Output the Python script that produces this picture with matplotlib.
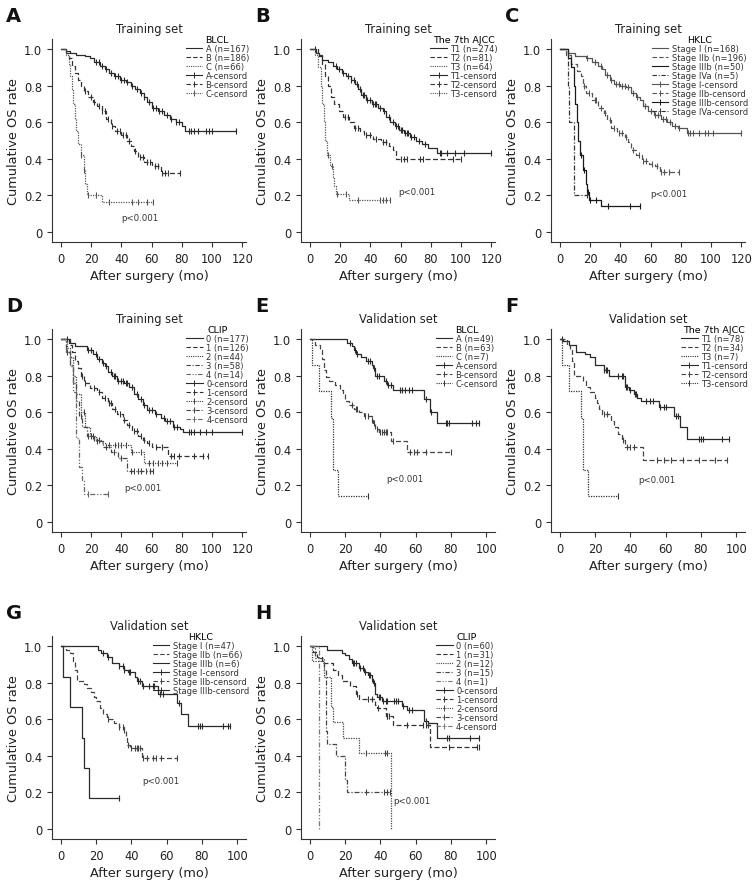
import numpy as np
import matplotlib.pyplot as plt
from matplotlib.lines import Line2D

plt.rcParams['font.family'] = ['DejaVu Sans']

# ---- A: training set, BLCL ----
pA_A_t = [0, 3, 6, 10, 16, 19, 22, 26, 29, 32, 35, 39, 43, 46, 49, 52, 55, 57, 60, 64, 68, 72, 76, 80, 82]
pA_A_s = [1.0, 0.99, 0.98, 0.97, 0.96, 0.95, 0.93, 0.91, 0.89, 0.87, 0.85, 0.83, 0.82, 0.80, 0.78, 0.76, 0.74, 0.71, 0.68, 0.66, 0.64, 0.62, 0.60, 0.58, 0.55]
pA_A_c = [23, 25, 27, 30, 33, 36, 38, 40, 42, 44, 47, 50, 53, 55, 58, 61, 63, 65, 67, 70, 73, 76, 78, 85, 86, 88, 91, 96, 98, 100, 116]
pA_B_t = [0, 3, 5, 7, 9, 11, 13, 15, 18, 21, 24, 27, 30, 33, 36, 40, 44, 46, 48, 51, 55, 60, 66]
pA_B_s = [1.0, 0.98, 0.95, 0.91, 0.87, 0.83, 0.80, 0.77, 0.74, 0.71, 0.69, 0.66, 0.62, 0.58, 0.55, 0.53, 0.50, 0.47, 0.44, 0.41, 0.38, 0.36, 0.32]
pA_B_c = [16, 20, 22, 25, 27, 29, 31, 34, 37, 39, 41, 43, 45, 49, 52, 54, 57, 59, 62, 64, 67, 69, 71, 79]
pA_C_t = [0, 3, 5, 6, 7, 8, 9, 10, 11, 13, 15, 16, 17, 27]
pA_C_s = [1.0, 0.97, 0.92, 0.85, 0.78, 0.70, 0.62, 0.55, 0.48, 0.42, 0.34, 0.26, 0.20, 0.165]
pA_C_c = [13.5, 15.5, 18, 23, 32, 47, 51, 57, 61]

# ---- B: training set, 7th AJCC ----
pB_T1_t = [0, 4, 6, 8, 12, 15, 18, 21, 24, 27, 30, 32, 34, 37, 41, 45, 48, 50, 53, 56, 59, 62, 66, 70, 74, 78, 84]
pB_T1_s = [1.0, 0.98, 0.96, 0.94, 0.93, 0.91, 0.89, 0.87, 0.85, 0.83, 0.81, 0.78, 0.75, 0.72, 0.70, 0.68, 0.66, 0.63, 0.60, 0.58, 0.56, 0.54, 0.52, 0.50, 0.48, 0.46, 0.43]
pB_T1_c = [3, 17, 19, 22, 25, 27, 29, 31, 33, 35, 36, 38, 40, 42, 43, 44, 46, 49, 52, 55, 57, 58, 60, 61, 63, 64, 65, 67, 69, 72, 76, 86, 87, 91, 96, 102, 120]
pB_T2_t = [0, 5, 8, 10, 12, 14, 16, 19, 22, 26, 29, 33, 36, 42, 47, 52, 55, 57]
pB_T2_s = [1.0, 0.97, 0.92, 0.85, 0.80, 0.74, 0.70, 0.66, 0.63, 0.60, 0.57, 0.55, 0.53, 0.51, 0.49, 0.47, 0.45, 0.40]
pB_T2_c = [23, 25, 30, 32, 37, 40, 44, 48, 50, 60, 62, 64, 73, 75, 95, 100]
pB_T3_t = [0, 3, 5, 7, 8, 9, 10, 11, 13, 15, 16, 17, 26]
pB_T3_s = [1.0, 0.97, 0.90, 0.80, 0.70, 0.60, 0.50, 0.42, 0.36, 0.30, 0.25, 0.205, 0.175]
pB_T3_c = [12, 14.5, 18, 24, 32, 46, 48, 50, 53]

# ---- C: training set, HKLC ----
pC_I_t = [0, 5, 10, 17, 21, 25, 28, 30, 33, 36, 40, 44, 47, 50, 53, 55, 58, 62, 67, 71, 74, 78, 84]
pC_I_s = [1.0, 0.98, 0.96, 0.95, 0.93, 0.91, 0.89, 0.86, 0.83, 0.81, 0.80, 0.79, 0.76, 0.74, 0.72, 0.69, 0.66, 0.64, 0.62, 0.60, 0.58, 0.57, 0.54]
pC_I_c = [18, 23, 27, 31, 34, 37, 39, 41, 43, 45, 48, 51, 56, 60, 63, 65, 68, 70, 73, 76, 79, 85, 86, 88, 92, 96, 98, 101, 120]
pC_IIb_t = [0, 4, 7, 11, 14, 15, 17, 21, 25, 29, 31, 34, 38, 43, 45, 47, 50, 54, 59, 63, 66]
pC_IIb_s = [1.0, 0.97, 0.92, 0.88, 0.85, 0.80, 0.76, 0.72, 0.68, 0.65, 0.61, 0.57, 0.54, 0.52, 0.49, 0.45, 0.42, 0.39, 0.37, 0.36, 0.33]
pC_IIb_c = [16, 19, 23, 24, 27, 30, 33, 36, 39, 41, 44, 48, 52, 55, 57, 61, 64, 67, 69, 72, 79]
pC_IIIb_t = [0, 5, 7, 9, 10, 11, 12, 13, 15, 17, 18, 19, 27]
pC_IIIb_s = [1.0, 0.95, 0.90, 0.80, 0.70, 0.60, 0.50, 0.42, 0.34, 0.26, 0.22, 0.175, 0.14]
pC_IIIb_c = [14, 16, 18.5, 20, 24, 32, 46, 53]
pC_IVa_t = [0, 5, 6, 9]
pC_IVa_s = [1.0, 0.8, 0.6, 0.2]
pC_IVa_c = [18]

# ---- D: training set, CLIP ----
pD_0_t = [0, 6, 9, 17, 21, 24, 27, 29, 31, 34, 37, 42, 45, 48, 51, 54, 57, 62, 66, 69, 74, 79, 81]
pD_0_s = [1.0, 0.98, 0.96, 0.94, 0.92, 0.89, 0.87, 0.85, 0.82, 0.80, 0.77, 0.76, 0.74, 0.70, 0.67, 0.64, 0.61, 0.59, 0.57, 0.55, 0.52, 0.51, 0.49]
pD_0_c = [4, 18, 20, 23, 25, 28, 30, 33, 35, 36, 38, 40, 41, 43, 44, 47, 50, 53, 55, 58, 60, 63, 68, 70, 72, 75, 77, 85, 86, 88, 92, 96, 100, 120]
pD_1_t = [0, 5, 7, 9, 11, 13, 15, 19, 24, 27, 31, 34, 37, 41, 44, 47, 51, 54, 57, 60, 71]
pD_1_s = [1.0, 0.97, 0.93, 0.88, 0.84, 0.80, 0.76, 0.73, 0.71, 0.68, 0.65, 0.62, 0.59, 0.56, 0.53, 0.50, 0.47, 0.45, 0.43, 0.41, 0.36]
pD_1_c = [14, 16, 22, 25, 29, 32, 33, 36, 39, 42, 45, 48, 50, 53, 55, 58, 63, 67, 73, 75, 78, 88, 94, 97]
pD_2_t = [0, 4, 6, 8, 10, 13, 16, 19, 23, 27, 30, 46, 55]
pD_2_s = [1.0, 0.95, 0.90, 0.80, 0.70, 0.60, 0.52, 0.47, 0.45, 0.43, 0.42, 0.38, 0.32]
pD_2_c = [15, 21, 25, 32, 36, 38, 40, 43, 47, 53, 58, 61, 64, 67, 70, 77]
pD_3_t = [0, 3, 6, 8, 10, 12, 14, 17, 22, 28, 33, 38, 44]
pD_3_s = [1.0, 0.93, 0.85, 0.76, 0.66, 0.58, 0.52, 0.47, 0.44, 0.41, 0.38, 0.35, 0.28]
pD_3_c = [4, 13, 18, 20, 24, 30, 35, 40, 46, 48, 51, 53, 56, 59, 61]
pD_4_t = [0, 3, 6, 8, 10, 12, 14, 15]
pD_4_s = [1.0, 0.93, 0.86, 0.71, 0.46, 0.30, 0.23, 0.155]
pD_4_c = [18, 31]

# ---- E: validation set, BLCL ----
pE_A_t = [0, 21, 24, 25, 26, 29, 32, 35, 36, 37, 42, 44, 47, 65, 68, 72]
pE_A_s = [1.0, 0.98, 0.96, 0.94, 0.92, 0.90, 0.88, 0.86, 0.84, 0.80, 0.77, 0.75, 0.72, 0.67, 0.60, 0.54]
pE_A_c = [23, 25.5, 27, 33, 34, 36.5, 38, 39, 43, 44.5, 46, 51, 52, 54, 56, 58, 66, 68.5, 77, 78, 79, 92, 94, 96]
pE_B_t = [0, 3, 6, 7, 8, 9, 11, 14, 17, 19, 20, 22, 25, 28, 31, 35, 36, 37, 39, 46, 55]
pE_B_s = [1.0, 0.97, 0.94, 0.89, 0.83, 0.79, 0.77, 0.75, 0.72, 0.70, 0.66, 0.64, 0.62, 0.60, 0.58, 0.56, 0.54, 0.51, 0.49, 0.44, 0.385]
pE_B_c = [24, 26, 27, 31.5, 33, 35.5, 36.5, 38, 40, 41, 42, 43, 44, 47, 57, 59, 61, 66, 80]
pE_C_t = [0, 1, 5, 12, 13, 16]
pE_C_s = [1.0, 0.857, 0.714, 0.571, 0.286, 0.143]
pE_C_c = [33]

# ---- F: validation set, 7th AJCC ----
pF_T1_t = [0, 2, 5, 9, 14, 17, 20, 25, 28, 37, 39, 42, 44, 46, 56, 65, 68, 72]
pF_T1_s = [1.0, 0.99, 0.97, 0.93, 0.92, 0.90, 0.86, 0.83, 0.80, 0.74, 0.72, 0.70, 0.68, 0.66, 0.63, 0.58, 0.52, 0.455]
pF_T1_c = [1, 25, 26, 27, 33, 35, 36, 37.5, 38, 40, 42.5, 43, 49, 51, 53, 57, 59, 60, 66, 67, 79, 80, 81, 92, 96]
pF_T2_t = [0, 4, 6, 7, 8, 13, 15, 17, 20, 21, 22, 24, 29, 31, 33, 35, 37, 47]
pF_T2_s = [1.0, 0.97, 0.94, 0.88, 0.80, 0.77, 0.74, 0.71, 0.68, 0.65, 0.62, 0.59, 0.55, 0.52, 0.48, 0.45, 0.41, 0.34]
pF_T2_c = [25, 27, 36, 38, 40, 42, 55, 59, 63, 70, 79, 88, 95]
pF_T3_t = [0, 1, 5, 12, 13, 16]
pF_T3_s = [1.0, 0.857, 0.714, 0.571, 0.286, 0.143]
pF_T3_c = [33]

# ---- G: validation set, HKLC ----
pG_I_t = [0, 21, 23, 26, 29, 33, 36, 38, 42, 43, 46, 55, 66, 68, 72]
pG_I_s = [1.0, 0.98, 0.96, 0.94, 0.91, 0.89, 0.87, 0.86, 0.83, 0.81, 0.78, 0.74, 0.69, 0.63, 0.565]
pG_I_c = [24, 27, 33, 35, 36, 38.5, 39, 43.5, 44, 45, 46.5, 50, 52, 53, 56, 58, 67, 78, 79, 80, 92, 95, 96]
pG_IIb_t = [0, 3, 5, 7, 8, 9, 13, 15, 17, 19, 20, 22, 24, 26, 30, 33, 36, 37, 37.5, 39, 46]
pG_IIb_s = [1.0, 0.98, 0.96, 0.92, 0.87, 0.81, 0.79, 0.77, 0.75, 0.72, 0.70, 0.66, 0.63, 0.60, 0.58, 0.56, 0.54, 0.50, 0.46, 0.44, 0.39]
pG_IIb_c = [26.5, 33, 35, 36, 38, 40, 42, 43, 44, 45, 46.5, 49, 52, 54, 57, 66]
pG_IIIb_t = [0, 1, 5, 12, 13, 16]
pG_IIIb_s = [1.0, 0.833, 0.667, 0.5, 0.333, 0.167]
pG_IIIb_c = [33]

# ---- H: validation set, CLIP ----
pH_0_t = [0, 10, 18, 20, 22, 24, 28, 31, 33, 35, 36, 37, 38, 41, 52, 55, 65, 67, 72]
pH_0_s = [1.0, 0.98, 0.96, 0.95, 0.93, 0.91, 0.88, 0.86, 0.84, 0.82, 0.80, 0.74, 0.72, 0.70, 0.67, 0.65, 0.59, 0.58, 0.50]
pH_0_c = [24.5, 25, 26, 28.5, 30, 31.5, 33.5, 34, 35.5, 36.5, 39, 40, 41.5, 43, 44, 48, 49, 50, 53, 56, 58, 66, 78, 79, 91, 96]
pH_1_t = [0, 2, 4, 7, 13, 16, 18, 23, 26, 28, 37, 38, 43, 47, 68]
pH_1_s = [1.0, 0.97, 0.94, 0.91, 0.87, 0.84, 0.81, 0.78, 0.74, 0.71, 0.68, 0.66, 0.62, 0.57, 0.45]
pH_1_c = [27, 33, 35, 38.5, 43.5, 44, 45, 55, 64, 66, 67, 79, 95, 96]
pH_2_t = [0, 1, 8, 12, 13, 19, 28, 46]
pH_2_s = [1.0, 0.917, 0.833, 0.667, 0.583, 0.5, 0.417, 0.0]
pH_2_c = [32, 42.5, 44]
pH_3_t = [0, 3, 8, 9, 10, 15, 20, 21]
pH_3_s = [1.0, 0.933, 0.867, 0.533, 0.467, 0.40, 0.267, 0.20]
pH_3_c = [32, 42, 44, 45.5]
pH_4_t = [0, 5]
pH_4_s = [1.0, 0.0]
pH_4_c = []

# line styles
SOLID = '-'
DASH = (0, (4, 2))
DOT = (0, (1, 1))
DASHDOT = (0, (4, 1.5, 1, 1.5))
DASHDOTDOT = (0, (4, 1.5, 1, 1.5, 1, 1.5))

panels = [
    # letter, title, legend title, training?, p-text pos, curves
    ('A', 'Training set', 'BLCL', True, (52, 0.08), [
        ('A (n=167)', 'A-censord', pA_A_t, pA_A_s, pA_A_c, '#2a2a2a', SOLID),
        ('B (n=186)', 'B-censord', pA_B_t, pA_B_s, pA_B_c, '#333333', DASH),
        ('C (n=66)', 'C-censord', pA_C_t, pA_C_s, pA_C_c, '#555555', DOT)]),
    ('B', 'Training set', 'The 7th AJCC', True, (71, 0.22), [
        ('T1 (n=274)', 'T1-censord', pB_T1_t, pB_T1_s, pB_T1_c, '#2a2a2a', SOLID),
        ('T2 (n=81)', 'T2-censord', pB_T2_t, pB_T2_s, pB_T2_c, '#333333', DASH),
        ('T3 (n=64)', 'T3-censord', pB_T3_t, pB_T3_s, pB_T3_c, '#555555', DOT)]),
    ('C', 'Training set', 'HKLC', True, (72, 0.21), [
        ('Stage I (n=168)', 'Stage I-censord', pC_I_t, pC_I_s, pC_I_c, '#555555', SOLID),
        ('Stage IIb (n=196)', 'Stage IIb-censord', pC_IIb_t, pC_IIb_s, pC_IIb_c, '#555555', DASH),
        ('Stage IIIb (n=50)', 'Stage IIIb-censord', pC_IIIb_t, pC_IIIb_s, pC_IIIb_c, '#1a1a1a', SOLID),
        ('Stage IVa (n=5)', 'Stage IVa-censord', pC_IVa_t, pC_IVa_s, pC_IVa_c, '#333333', DASHDOT)]),
    ('D', 'Training set', 'CLIP', True, (54, 0.19), [
        ('0 (n=177)', '0-censord', pD_0_t, pD_0_s, pD_0_c, '#2a2a2a', SOLID),
        ('1 (n=126)', '1-censord', pD_1_t, pD_1_s, pD_1_c, '#333333', DASH),
        ('2 (n=44)', '2-censord', pD_2_t, pD_2_s, pD_2_c, '#444444', DOT),
        ('3 (n=58)', '3-censord', pD_3_t, pD_3_s, pD_3_c, '#444444', DASHDOT),
        ('4 (n=14)', '4-censord', pD_4_t, pD_4_s, pD_4_c, '#666666', DASHDOTDOT)]),
    ('E', 'Validation set', 'BLCL', False, (54, 0.24), [
        ('A (n=49)', 'A-censord', pE_A_t, pE_A_s, pE_A_c, '#2a2a2a', SOLID),
        ('B (n=63)', 'B-censord', pE_B_t, pE_B_s, pE_B_c, '#444444', DASH),
        ('C (n=7)', 'C-censord', pE_C_t, pE_C_s, pE_C_c, '#333333', DOT)]),
    ('F', 'Validation set', 'The 7th AJCC', False, (55, 0.23), [
        ('T1 (n=78)', 'T1-censord', pF_T1_t, pF_T1_s, pF_T1_c, '#2a2a2a', SOLID),
        ('T2 (n=34)', 'T2-censord', pF_T2_t, pF_T2_s, pF_T2_c, '#444444', DASH),
        ('T3 (n=7)', 'T3-censord', pF_T3_t, pF_T3_s, pF_T3_c, '#333333', DOT)]),
    ('G', 'Validation set', 'HKLC', False, (57, 0.265), [
        ('Stage I (n=47)', 'Stage I-censord', pG_I_t, pG_I_s, pG_I_c, '#2a2a2a', SOLID),
        ('Stage IIb (n=66)', 'Stage IIb-censord', pG_IIb_t, pG_IIb_s, pG_IIb_c, '#444444', DASH),
        ('Stage IIIb (n=6)', 'Stage IIIb-censord', pG_IIIb_t, pG_IIIb_s, pG_IIIb_c, '#2a2a2a', SOLID)]),
    ('H', 'Validation set', 'CLIP', False, (58, 0.155), [
        ('0 (n=60)', '0-censord', pH_0_t, pH_0_s, pH_0_c, '#2a2a2a', SOLID),
        ('1 (n=31)', '1-censord', pH_1_t, pH_1_s, pH_1_c, '#333333', DASH),
        ('2 (n=12)', '2-censord', pH_2_t, pH_2_s, pH_2_c, '#444444', DOT),
        ('3 (n=15)', '3-censord', pH_3_t, pH_3_s, pH_3_c, '#444444', DASHDOT),
        ('4 (n=1)', '4-censord', pH_4_t, pH_4_s, pH_4_c, '#777777', DASHDOTDOT)]),
]

W, H = 752, 887
fig = plt.figure(figsize=(W / 100, H / 100), dpi=100)

col_left = [52, 301, 551]
row_top = [40, 330, 637]
ax_w, ax_h = 194, 203


def surv_at(t, s, x):
    idx = np.searchsorted(np.asarray(t, float), np.asarray(x, float), side='right') - 1
    return np.asarray(s)[idx]


for k, (letter, title, leg_title, training, ppos, curves) in enumerate(panels):
    r, c = divmod(k, 3)
    left = col_left[c] / W
    bottom = 1 - (row_top[r] + ax_h) / H
    ax = fig.add_axes([left, bottom, ax_w / W, ax_h / H])

    line_handles, cens_handles, line_labels, cens_labels = [], [], [], []
    for lab, clab, t, s, cens, col, ls in curves:
        end = max([t[-1]] + list(cens))
        ax.step(list(t) + [end], list(s) + [s[-1]], where='post',
                color=col, ls=ls, lw=0.9)
        if len(cens):
            ax.plot(cens, surv_at(t, s, cens), ls='none', marker='|',
                    ms=5, mew=0.8, color=col)
        line_handles.append(Line2D([], [], color=col, ls=ls, lw=0.8))
        cens_handles.append(Line2D([], [], color=col, ls=ls, lw=0.8,
                                   marker='|', ms=4.5, mew=0.7))
        line_labels.append(lab)
        cens_labels.append(clab)

    leg = ax.legend(line_handles + cens_handles, line_labels + cens_labels,
                    title=leg_title, loc='upper right', bbox_to_anchor=(1.015, 1.02),
                    frameon=False, fontsize=6, title_fontsize=6.8,
                    labelspacing=0.0, handlelength=2.0, handletextpad=0.4,
                    borderpad=0, borderaxespad=0)
    for txt in leg.get_texts():
        txt.set_color('#333333')

    if training:
        ax.set_xlim(-6, 122.5)
        ax.set_xticks(np.arange(0, 121, 20))
    else:
        ax.set_xlim(-5, 105)
        ax.set_xticks(np.arange(0, 101, 20))
    ax.set_ylim(-0.055, 1.055)
    ax.set_yticks([0, 0.2, 0.4, 0.6, 0.8, 1.0])
    ax.set_yticklabels(['0', '0.2', '0.4', '0.6', '0.8', '1.0'])

    for side in ('top', 'right'):
        ax.spines[side].set_visible(False)
    for side in ('left', 'bottom'):
        ax.spines[side].set_linewidth(0.8)
        ax.spines[side].set_color('#333333')
    ax.tick_params(direction='out', length=3.5, width=0.8, labelsize=8.3,
                   colors='#333333', labelcolor='#222222')

    ax.set_xlabel('After surgery (mo)', fontsize=9.3, color='#222222', labelpad=3)
    ax.set_ylabel('Cumulative OS rate', fontsize=9.3, color='#222222', labelpad=3)
    ax.set_title(title, fontsize=8.3, color='#222222', pad=5)
    ax.text(ppos[0], ppos[1], 'p<0.001', fontsize=6.2, color='#333333',
            ha='center', va='center')

    fig.text((col_left[c] - 46) / W, 1 - (row_top[r] - 33) / H, letter,
             fontsize=14, fontweight='bold', ha='left', va='top', color='#111111')

fig.savefig('out.png', dpi=100)
